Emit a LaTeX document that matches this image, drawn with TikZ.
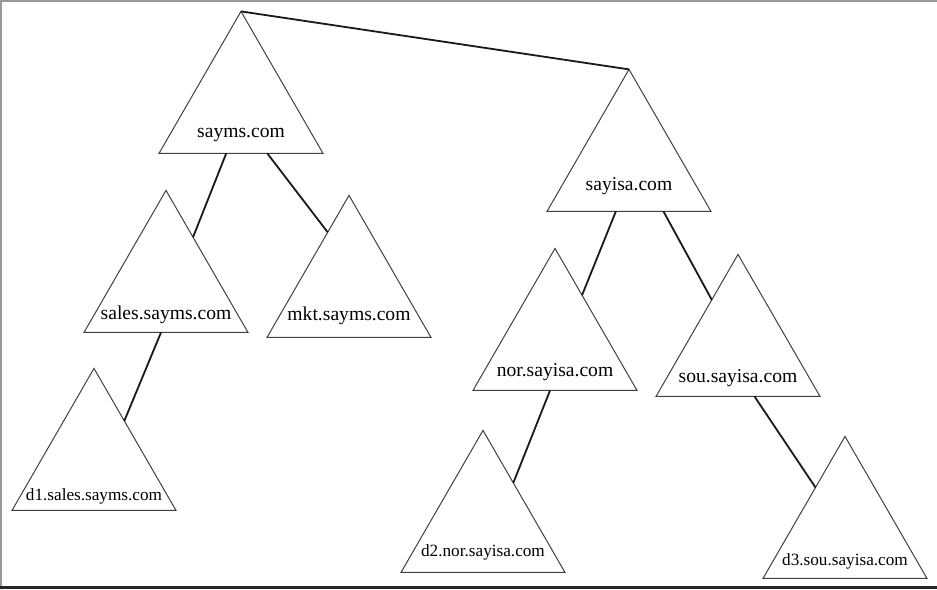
\documentclass[tikz,border=0pt]{standalone}
\usepackage{fontspec}
\setmainfont{Liberation Serif}
\usetikzlibrary{shapes.geometric, calc}
\tikzset {
    zone/.style={regular polygon, regular polygon sides=3, minimum size=94.6pt,
        inner sep=0pt, outer sep=0pt, draw=black!75, line width=0.5pt},
    lbl/.style={anchor=base, inner sep=0pt, font=\fontsize{9.8}{11}\selectfont},
    sublbl/.style={lbl, font=\fontsize{8.6}{10}\selectfont},
    link/.style={line width=0.9pt, black!90}
}

\begin{document}
\begin{tikzpicture}[x=0.5pt, y=-0.5pt]
    \useasboundingbox (0,0) rectangle (937,589);
    % frame
    \draw[black!40, line width=0.8pt] (1,589) -- (1,1) -- (937,1);
    \draw[black!85, line width=1.5pt] (0,587) -- (937,587);

    % domains
    \node[zone] (sayms) at (241,106) {};
    \node[zone] (sayisa) at (629,164) {};
    \node[zone] (sales) at (166,285) {};
    \node[zone] (mkt) at (349,290) {};
    \node[zone] (d1) at (94,463) {};
    \node[zone] (nor) at (555,343) {};
    \node[zone] (sou) at (738,349) {};
    \node[zone] (d2) at (483,525) {};
    \node[zone] (d3) at (845,531) {};

    \node[lbl] (sayms-l) at ([yshift=8pt]sayms.side 2) {sayms.com};
    \node[lbl] (sayisa-l) at ([yshift=10.5pt]sayisa.side 2) {sayisa.com};
    \node[lbl] (sales-l) at ([yshift=6.5pt]sales.side 2) {sales.sayms.com};
    \node[lbl] (mkt-l) at ([yshift=8.5pt]mkt.side 2) {mkt.sayms.com};
    \node[sublbl] (d1-l) at ([yshift=5pt]d1.side 2) {d1.sales.sayms.com};
    \node[lbl] (nor-l) at ([yshift=7pt]nor.side 2) {nor.sayisa.com};
    \node[lbl] (sou-l) at ([yshift=7pt]sou.side 2) {sou.sayisa.com};
    \node[sublbl] (d2-l) at ([yshift=8pt]d2.side 2) {d2.nor.sayisa.com};
    \node[sublbl] (d3-l) at ([yshift=6.5pt]d3.side 2) {d3.sou.sayisa.com};

    % delegation links
    \draw[link]
    (sayms.corner 1) -- (sayisa.corner 1)
    ($(sayms.corner 2)!0.41!(sayms.corner 3)$) -- ($(sales.corner 1)!0.33!(sales.corner 3)$)
    ($(sayms.corner 2)!0.66!(sayms.corner 3)$) -- ($(mkt.corner 1)!0.26!(mkt.corner 2)$)
    ($(sayisa.corner 2)!0.42!(sayisa.corner 3)$) -- ($(nor.corner 1)!0.33!(nor.corner 3)$)
    ($(sayisa.corner 2)!0.71!(sayisa.corner 3)$) -- ($(sou.corner 1)!0.32!(sou.corner 2)$)
    ($(sales.corner 2)!0.47!(sales.corner 3)$) -- ($(d1.corner 1)!0.37!(d1.corner 3)$)
    ($(nor.corner 2)!0.47!(nor.corner 3)$) -- ($(d2.corner 1)!0.37!(d2.corner 3)$)
    ($(sou.corner 2)!0.6!(sou.corner 3)$) -- ($(d3.corner 1)!0.36!(d3.corner 2)$);
\end{tikzpicture}
\end{document}
